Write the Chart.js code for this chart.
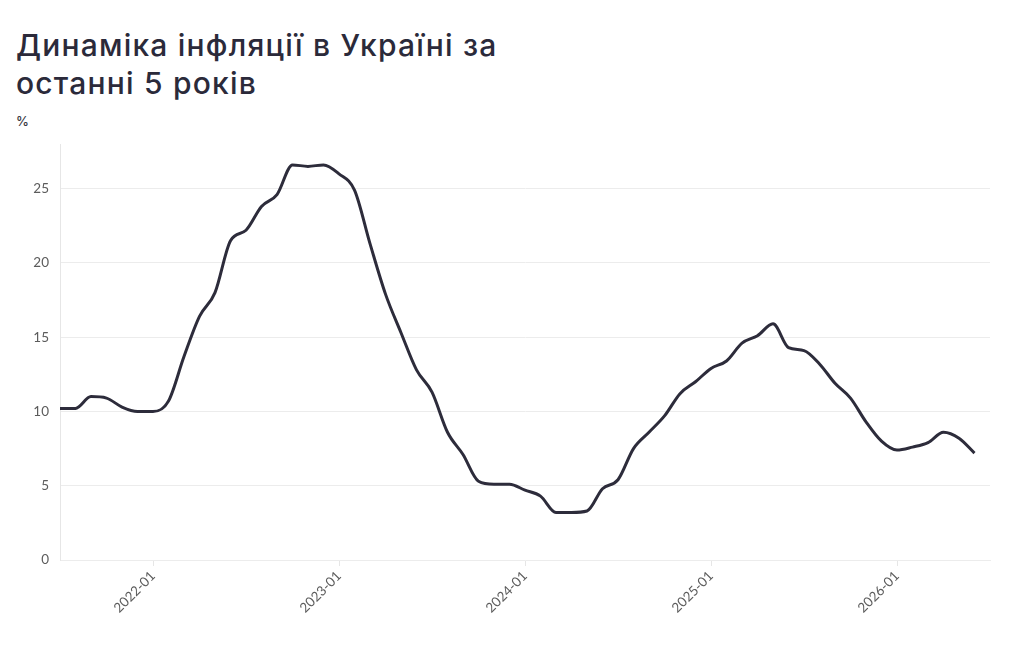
<!DOCTYPE html>
<html>
<head>
<meta charset="utf-8">
<script src="https://cdn.jsdelivr.net/npm/chart.js@4"></script>
<style>
  html, body { margin: 0; padding: 0; background: #ffffff; }
  body { width: 1024px; height: 647px; position: relative; overflow: hidden; font-family: Inter, "Noto Sans", sans-serif; }
  #title { position: absolute; left: 16px; top: 26px; font-size: 30px; line-height: 38px; font-weight: 500; color: #2b2a3a; letter-spacing: 1.2px; }
  #unit { position: absolute; left: 16px; top: 113px; font-size: 13px; color: #3a3a44; font-weight: 500; }
  #wrap { position: absolute; left: 0; top: 125px; width: 1024px; height: 522px; }
</style>
</head>
<body>
<div id="title">Динаміка інфляції в Україні за<br>останні 5 років</div>
<div id="unit">%</div>
<div id="wrap"><canvas id="c"></canvas></div>
<script>
const months = [
  "2021-07","2021-08","2021-09","2021-10","2021-11","2021-12",
  "2022-01","2022-02","2022-03","2022-04","2022-05","2022-06","2022-07","2022-08","2022-09","2022-10","2022-11","2022-12",
  "2023-01","2023-02","2023-03","2023-04","2023-05","2023-06","2023-07","2023-08","2023-09","2023-10","2023-11","2023-12",
  "2024-01","2024-02","2024-03","2024-04","2024-05","2024-06","2024-07","2024-08","2024-09","2024-10","2024-11","2024-12",
  "2025-01","2025-02","2025-03","2025-04","2025-05","2025-06","2025-07","2025-08","2025-09","2025-10","2025-11","2025-12",
  "2026-01","2026-02","2026-03","2026-04","2026-05","2026-06","2026-07"
];
const inflation = [
  10.2, 10.2, 11.0, 10.9, 10.3, 10.0,
  10.0, 10.7, 13.7, 16.4, 18.0, 21.5, 22.2, 23.8, 24.6, 26.6, 26.5, 26.6,
  26.0, 24.9, 21.3, 17.9, 15.3, 12.8, 11.3, 8.6, 7.1, 5.3, 5.1, 5.1,
  4.7, 4.3, 3.2, 3.2, 3.3, 4.8, 5.4, 7.5, 8.6, 9.7, 11.2, 12.0,
  12.9, 13.4, 14.6, 15.1, 15.9, 14.3, 14.1, 13.2, 11.9, 10.9, 9.3, 8.0,
  7.4, 7.6, 7.9, 8.6, 8.2, 7.2, null
];
const yTicks = [0, 5, 10, 15, 20, 25];

new Chart(document.getElementById('c'), {
  type: 'line',
  data: {
    labels: months,
    datasets: [{
      data: inflation,
      borderColor: '#2d2c3b',
      borderWidth: 3,
      pointRadius: 0,
      pointHoverRadius: 0,
      fill: false,
      cubicInterpolationMode: 'monotone',
      spanGaps: false
    }]
  },
  options: {
    responsive: true,
    maintainAspectRatio: false,
    animation: false,
    layout: { padding: { left: 0, right: 34, top: 8, bottom: 0 } },
    plugins: { legend: { display: false }, tooltip: { enabled: false } },
    scales: {
      x: {
        type: 'category',
        offset: false,
        grid: { drawOnChartArea: false, drawTicks: true, tickLength: 6, color: '#e6e6e6' },
        border: { display: true, color: '#ececec' },
        ticks: {
          autoSkip: false,
          maxRotation: 45,
          minRotation: 45,
          color: '#5c5c5c',
          font: { family: 'Lato, "Noto Sans", sans-serif', size: 13.5 },
          padding: 2,
          callback: function (value) {
            const l = this.getLabelForValue(value);
            return l.endsWith('-01') ? l : null;
          }
        },
        afterFit: function (scale) { scale.height = 87; }
      },
      y: {
        min: 0,
        max: 28,
        grid: { color: '#ececec', drawTicks: false, lineWidth: 1 },
        border: { display: true, color: '#e6e6e6' },
        afterBuildTicks: function (scale) {
          scale.ticks = yTicks.map(v => ({ value: v }));
        },
        ticks: {
          color: '#5c5c5c',
          font: { family: 'Lato, "Noto Sans", sans-serif', size: 13.5 },
          padding: 11
        },
        afterFit: function (scale) { scale.width = 60; }
      }
    }
  }
});
</script>
</body>
</html>
